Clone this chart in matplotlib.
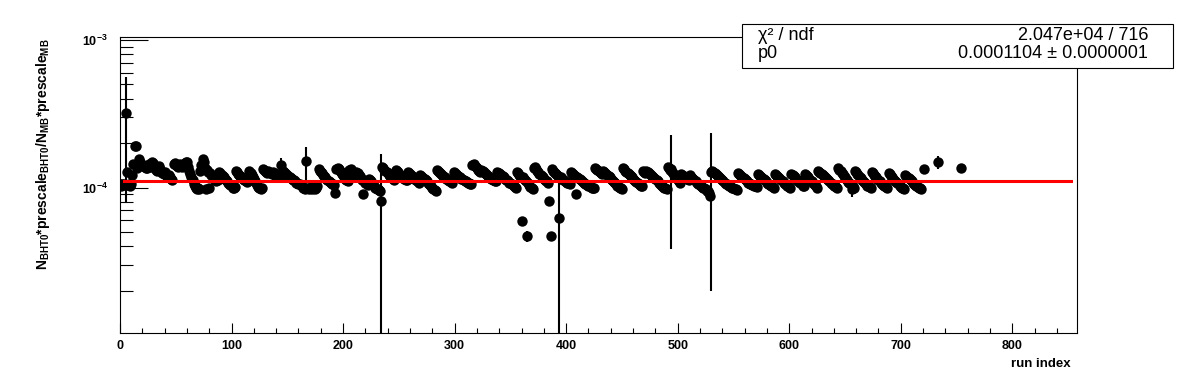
import matplotlib
matplotlib.use("Agg")
import matplotlib.pyplot as plt
import numpy as np
from matplotlib.ticker import LogLocator, NullFormatter, MultipleLocator

plt.rcParams['font.family'] = ['Liberation Sans', 'DejaVu Sans']
plt.rcParams['mathtext.fontset'] = 'custom'
plt.rcParams['mathtext.rm'] = 'Liberation Sans:bold'
plt.rcParams['mathtext.bf'] = 'Liberation Sans:bold'
plt.rcParams['mathtext.it'] = 'Liberation Sans:bold'

# ratio per run (units of 1e-4), run index = position in list
ratio = [
    1.05, 1.03, 1.06, 1.04, 1.05, 3.22, 1.28, 1.04, 1.06, 1.02, 1.05, 1.22,
    1.45, 1.92, 1.90, 1.36, 1.42, 1.55,
    1.48, 1.45, 1.40, 1.43, 1.38, 1.35, 1.36, 1.40, 1.45, 1.42, 1.38, 1.50, 1.46, 1.35,
    1.32, 1.30, 1.36, 1.40, 1.34, 1.30, 1.26, 1.24, 1.28, 1.22, 1.20, 1.18, 1.22, 1.17, 1.15, 1.13,
    1.44, 1.46, 1.42, 1.40, 1.38, 1.43, 1.45, 1.40, 1.37, 1.42, 1.46, 1.48, 1.50,
    1.38, 1.30, 1.24, 1.18, 1.12, 1.06, 1.02, 0.99, 0.98, 1.00, 0.97, 1.30, 1.42,
    1.55, 1.50, 1.36, 0.97, 1.32, 1.28, 0.99, 1.25, 1.22, 1.18, 1.15, 1.12, 1.10, 1.14, 1.13,
    1.28, 1.25, 1.22, 1.20, 1.17, 1.15, 1.12, 1.10, 1.08, 1.06, 1.04, 1.02, 1.00, 0.99, 1.01,
    1.30, 1.27, 1.24, 1.21, 1.19, 1.17, 1.15, 1.13, 1.12, 1.10, 1.09, 1.11,
    1.30, 1.26, 1.22, 1.18, 1.14, 1.10, 1.07, 1.04, 1.01, 0.99, 0.98, 1.00,
    1.33, 1.31, 1.30, 1.28, 1.26, 1.30, 1.27, 1.25, 1.23, 1.28, 1.26, 1.22, 1.20, 1.24, 1.22, 1.18, 1.43, 1.20,
    1.30, 1.28, 1.26, 1.24, 1.22, 1.20, 1.18, 1.16, 1.14, 1.13, 1.12, 1.10, 1.08, 1.07, 1.06, 1.05, 1.04, 1.03,
    1.00, 0.99, 0.98, 1.51, 1.00, 0.98, 0.99, 1.01, 0.98, 0.99, 1.00, 0.98, 0.99, 1.02,
    1.33, 1.30, 1.27, 1.25, 1.22, 1.20, 1.18, 1.15, 1.13, 1.11, 1.09, 1.08, 1.06, 1.05, 1.04,
    0.92,
    1.34, 1.36, 1.33, 1.30, 1.27, 1.24, 1.21, 1.18, 1.15, 1.12, 1.10,
    1.31, 1.29, 1.33, 1.30, 1.27, 1.25, 1.22, 1.28, 1.25, 1.22, 1.19, 1.16, 1.13, 0.90, 1.10, 1.08, 1.06, 1.04,
    1.15, 1.12, 1.10, 1.08, 1.05, 1.02, 1.00, 0.98, 0.97, 0.96, 0.95,
    0.81,
    1.38, 1.35, 1.32, 1.30, 1.27, 1.25, 1.22, 1.20, 1.18, 1.16, 1.14, 1.12,
    1.32, 1.29, 1.27, 1.24, 1.22, 1.20, 1.18, 1.16, 1.14, 1.13, 1.12,
    1.28, 1.26, 1.24, 1.21, 1.19, 1.17, 1.15, 1.13, 1.11, 1.10, 1.08,
    1.22, 1.20, 1.18, 1.16, 1.14, 1.12, 1.10, 1.08, 1.06, 1.04, 1.02, 1.00, 0.98, 0.96, 0.94,
    1.31, 1.29, 1.27, 1.25, 1.23, 1.21, 1.19, 1.17, 1.15, 1.14, 1.12, 1.11, 1.10, 1.09, 1.08,
    1.28, 1.26, 1.24, 1.22, 1.20, 1.18, 1.17, 1.15, 1.14, 1.12, 1.11, 1.10, 1.09, 1.08, 1.07, 1.06, 1.06,
    1.42, 1.44, 1.40, 1.37, 1.35, 1.32, 1.30, 1.28, 1.31, 1.29, 1.27, 1.25, 1.23, 1.21, 1.19, 1.17,
    1.16, 1.14, 1.13, 1.12, 1.11, 1.10,
    1.28, 1.26, 1.25, 1.23, 1.21, 1.19, 1.17, 1.15, 1.13, 1.12, 1.10, 1.08, 1.07, 1.05, 1.04, 1.02, 1.01, 1.00,
    1.28, 1.25, 1.22, 1.20, 0.59, 1.17, 1.14, 1.12, 1.10, 0.47, 1.07, 1.04, 1.01, 0.99, 0.97,
    1.35, 1.38, 1.33, 1.30, 1.27, 1.24, 1.22, 1.19, 1.17, 1.15, 1.13, 1.11, 1.10, 1.08,
    0.81, 0.47,
    1.33, 1.30, 1.28, 1.25, 1.23, 1.21, 1.19, 0.62, 1.17, 1.15, 1.13, 1.12, 1.10, 1.09, 1.08, 1.07, 1.06,
    1.28, 1.26, 1.24, 1.22, 1.20, 0.91, 1.18, 1.16, 1.14, 1.12, 1.11, 1.09, 1.08, 1.06, 1.05, 1.04,
    1.03, 1.02, 1.01, 1.00, 1.00, 0.99,
    1.36, 1.34, 1.32, 1.30, 1.28, 1.26, 1.24, 1.30, 1.27, 1.25, 1.23, 1.21, 1.19, 1.17, 1.15, 1.13,
    1.11, 1.09, 1.07, 1.05, 1.03, 1.01, 1.00, 0.99, 0.98,
    1.36, 1.33, 1.30, 1.28, 1.25, 1.23, 1.21, 1.19, 1.17, 1.15, 1.13, 1.11, 1.09, 1.07, 1.06, 1.04, 1.03, 1.02,
    1.30, 1.28, 1.26, 1.30, 1.28, 1.26, 1.24, 1.22, 1.20, 1.18, 1.16, 1.14, 1.12, 1.10, 1.08, 1.06,
    1.04, 1.02, 1.01, 1.00, 0.99, 0.98,
    1.38, 1.35, 1.32, 1.33, 1.28, 1.25, 1.22, 1.19, 1.16, 1.13, 1.10, 1.07,
    1.24, 1.22, 1.20, 1.19, 1.17, 1.15, 1.14, 1.13, 1.21, 1.18, 1.16, 1.14, 1.12, 1.10, 1.08, 1.06,
    1.05, 1.04, 1.02, 1.01, 1.00, 0.99, 0.97, 0.95, 0.94, 0.92, 0.88,
    1.28,
    1.30, 1.28, 1.26, 1.24, 1.22, 1.20, 1.18, 1.16, 1.14, 1.12, 1.10, 1.08, 1.06, 1.05, 1.04, 1.03,
    1.02, 1.01, 1.00, 0.99, 0.98, 0.97, 0.96,
    1.26, 1.24, 1.22, 1.20, 1.18, 1.16, 1.14, 1.12, 1.10, 1.08, 1.07, 1.06, 1.05, 1.04, 1.03, 1.02, 1.02, 1.01,
    1.24, 1.22, 1.20, 1.18, 1.16, 1.14, 1.12, 1.10, 1.08, 1.06, 1.05, 1.04, 1.02, 1.01, 1.00,
    1.24, 1.22, 1.20, 1.18, 1.16, 1.14, 1.12, 1.10, 1.08, 1.06, 1.05, 1.03, 1.02, 1.01, 1.00,
    1.24, 1.22, 1.19, 1.17, 1.15, 1.13, 1.11, 1.09, 1.07, 1.05, 1.03, 1.02,
    1.24, 1.22, 1.19, 1.17, 1.15, 1.12, 1.10, 1.08, 1.06, 1.04, 1.02, 1.00,
    1.30, 1.28, 1.26, 1.24, 1.22, 1.20, 1.18, 1.16, 1.14, 1.12, 1.10, 1.08, 1.06, 1.05, 1.03, 1.02, 1.01, 1.00,
    1.35, 1.32, 1.29, 1.26, 1.23, 1.20, 1.17, 1.14, 1.12, 1.09, 1.07, 1.05, 0.98, 1.02, 0.99,
    1.30, 1.27, 1.24, 1.21, 1.18, 1.16, 1.13, 1.11, 1.09, 1.07, 1.05, 1.03, 1.02, 1.01, 1.00,
    1.28, 1.25, 1.22, 1.19, 1.17, 1.14, 1.12, 1.10, 1.08, 1.06, 1.04, 1.03, 1.02, 1.01, 1.00,
    1.26, 1.23, 1.20, 1.18, 1.15, 1.13, 1.11, 1.09, 1.07, 1.05, 1.03, 1.01, 1.00, 0.99, 0.98,
    1.22, 1.20, 1.18, 1.16, 1.14, 1.12, 1.10, 1.08, 1.06, 1.04, 1.03, 1.01, 1.00, 0.99, 0.98,
]
# a few late runs after a gap
late_runs = [721, 733, 754]
late_ratio = [1.33, 1.49, 1.35]

# visible error bars (units of 1e-4), keyed by run index
errors = {5: 2.42, 144: 0.16, 167: 0.38, 172: 0.05, 175: 0.05, 193: 0.05, 203: 0.06,
          219: 0.09, 234: 0.87, 306: 0.05, 338: 0.06, 365: 0.04, 394: 0.56,
          494: 0.95, 530: 1.08, 623: 0.05, 656: 0.12, 733: 0.15}

p0 = 0.0001104
fit_range = (4, 853)

x = np.array(list(range(len(ratio))) + late_runs, dtype=float)
y = np.array(ratio + late_ratio) * 1e-4
err = np.zeros_like(y)
for k, e in errors.items():
    i = k if k < len(ratio) else len(ratio) + late_runs.index(k)
    err[i] = e * 1e-4

fig = plt.figure(figsize=(11.96, 3.72), dpi=100)
ax = fig.add_axes([120 / 1196, 39 / 372, 957 / 1196, 296 / 372])

ax.errorbar(x, y, yerr=err, fmt='none', ecolor='black', elinewidth=1.5, capsize=0, zorder=2)
ax.plot(x, y, 'o', color='black', markersize=7.5, markeredgewidth=0, zorder=3)
ax.plot(fit_range, [p0, p0], color='red', lw=2.2, zorder=4)

ax.set_yscale('log')
ax.set_xlim(0, 858)
ax.set_ylim(1.03e-5, 1.05e-3)

ax.set_yticks([1e-4, 1e-3])
ax.set_yticklabels([r'$\mathbf{10^{-4}}$', r'$\mathbf{10^{-3}}$'], fontsize=9)
ax.yaxis.set_minor_locator(LogLocator(base=10, subs=np.arange(2, 10)))
ax.yaxis.set_minor_formatter(NullFormatter())
ax.tick_params(axis='y', which='major', direction='in', length=20, width=0.8, pad=9)
ax.tick_params(axis='y', which='minor', direction='in', length=9.5, width=0.8)

ax.xaxis.set_major_locator(MultipleLocator(100))
ax.xaxis.set_minor_locator(MultipleLocator(20))
ax.tick_params(axis='x', which='major', direction='in', length=7.5, width=0.8, pad=5)
ax.tick_params(axis='x', which='minor', direction='in', length=3.6, width=0.8)
for lab in ax.get_xticklabels():
    lab.set_fontweight('bold')
    lab.set_fontsize(9)
for sp in ax.spines.values():
    sp.set_linewidth(0.8)

fig.text(1071 / 1196, 1 - 364 / 372, 'run index', ha='right', va='center',
         fontsize=9.5, fontweight='bold')
fig.text(43 / 1196, 1 - 38 / 372,
         r'N$_{\mathbf{BHT0}}$*prescale$_{\mathbf{BHT0}}$/N$_{\mathbf{MB}}$*prescale$_{\mathbf{MB}}$',
         rotation=90, ha='center', va='top', fontsize=10, fontweight='bold')

# stats box
bx0, bx1, by0, by1 = 742 / 1196, 1173 / 1196, 1 - 68 / 372, 1 - 24 / 372
fig.patches.append(plt.Rectangle((bx0, by0), bx1 - bx0, by1 - by0, transform=fig.transFigure,
                                 facecolor='white', edgecolor='black', lw=0.8, zorder=5))
fig.text(758 / 1196, 1 - 35 / 372, 'χ² / ndf', ha='left', va='center', fontsize=13, zorder=6)
fig.text(1148 / 1196, 1 - 35 / 372, '2.047e+04 / 716', ha='right', va='center', fontsize=13, zorder=6)
fig.text(758 / 1196, 1 - 54 / 372, 'p0', ha='left', va='center', fontsize=13, zorder=6)
fig.text(1148 / 1196, 1 - 54 / 372, '0.0001104 ± 0.0000001', ha='right', va='center',
         fontsize=13, zorder=6)

fig.savefig('out.png', dpi=100)
